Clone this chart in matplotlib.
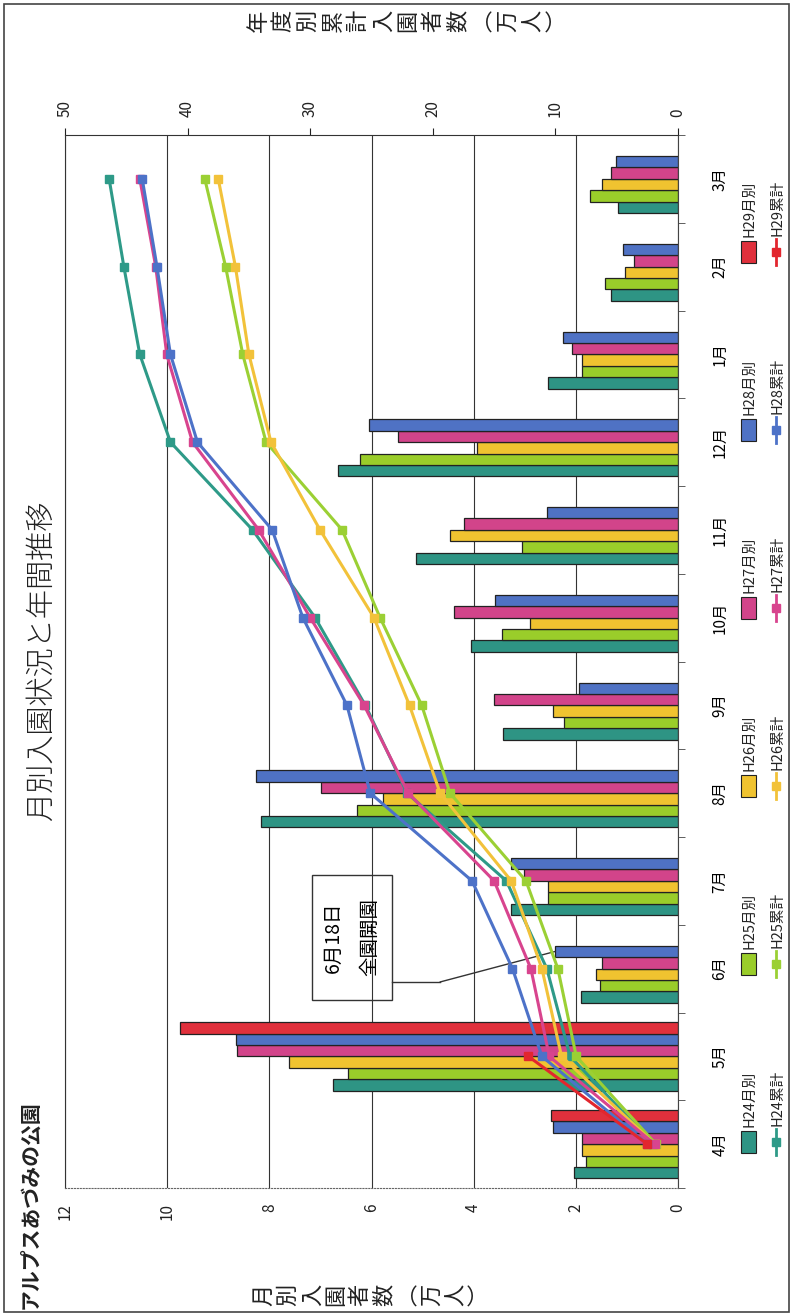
import numpy as np
import matplotlib
matplotlib.use('Agg')
import matplotlib.pyplot as plt
from matplotlib.patches import Rectangle
from matplotlib.lines import Line2D
from matplotlib.ticker import FixedLocator

plt.rcParams['font.family'] = ['Noto Sans CJK JP', 'DejaVu Sans']

# データ（万人）
months = ['4月', '5月', '6月', '7月', '8月', '9月', '10月', '11月', '12月', '1月', '2月', '3月']
names = ['H24', 'H25', 'H26', 'H27', 'H28', 'H29']

h24 = [2.03, 6.75, 1.90, 3.27, 8.17, 3.42, 4.06, 5.12, 6.65, 2.54, 1.32, 1.17]
h25 = [1.81, 6.46, 1.53, 2.55, 6.29, 2.23, 3.45, 3.05, 6.22, 1.88, 1.42, 1.73]
h26 = [1.88, 7.62, 1.60, 2.54, 5.77, 2.45, 2.90, 4.46, 3.94, 1.88, 1.04, 1.49]
h27 = [1.88, 8.63, 1.49, 3.02, 6.98, 3.61, 4.38, 4.18, 5.48, 2.08, 0.86, 1.31]
h28 = [2.45, 8.66, 2.41, 3.27, 8.27, 1.93, 3.58, 2.57, 6.04, 2.25, 1.07, 1.21]
h29 = [2.48, 9.75]

cum24 = [2.0, 8.8, 10.7, 14.0, 22.1, 25.5, 29.6, 34.7, 41.4, 43.9, 45.2, 46.4]
cum25 = [1.8, 8.3, 9.8, 12.4, 18.6, 20.9, 24.3, 27.4, 33.6, 35.5, 36.9, 38.6]
cum26 = [1.9, 9.5, 11.1, 13.6, 19.4, 21.9, 24.8, 29.2, 33.2, 35.0, 36.1, 37.5]
cum27 = [1.9, 10.5, 12.0, 15.0, 22.0, 25.6, 30.0, 34.2, 39.6, 41.7, 42.6, 43.9]
cum28 = [2.5, 11.1, 13.5, 16.8, 25.1, 27.0, 30.6, 33.1, 39.2, 41.4, 42.5, 43.7]
cum29 = [2.5, 12.2]

monthly = [h24, h25, h26, h27, h28, h29]
cumul = [cum24, cum25, cum26, cum27, cum28, cum29]
bar_colors = ['#2e9484', '#9acd2a', '#f0c330', '#d2448a', '#4f72c4', '#e0303c']
line_colors = ['#2e9a88', '#9bd034', '#f2c23a', '#d8448e', '#4d72c8', '#e2262e']

W, H = 792, 1316


def fx(px):
    return px / W


def fy(py):
    return 1 - py / H


def vertical_label(text, x0, y, pitch, size):
    # 縦書きラベルを90度回転した形で1文字ずつ置く
    for k, ch in enumerate(text):
        fig.text(fx(x0 + k * pitch), fy(y), ch, rotation=90, ha='center',
                 va='center', fontsize=size, color='#222222')


fig = plt.figure(figsize=(W / 100, H / 100), dpi=100)
fig.patch.set_facecolor('white')

ax = fig.add_axes([fx(65), fy(1188), (678 - 65) / W, (1188 - 135) / H])

bh = 0.13
n = len(monthly)
for i, vals in enumerate(monthly):
    pos = np.arange(len(vals)) + (i - (n - 1) / 2) * bh
    ax.barh(pos, vals, height=bh, color=bar_colors[i], edgecolor='#222222',
            linewidth=0.9, zorder=2)

ax.set_xlim(12, 0)
ax.set_ylim(-0.5, 11.5)
ax.set_xticks(range(0, 13, 2))
ax.xaxis.grid(True, color='#333333', linewidth=0.8)
ax.set_axisbelow(True)
ax.tick_params(axis='x', length=0, pad=11, labelsize=11, labelrotation=90,
               colors='#222222')

ax.set_yticks(range(len(months)))
ax.set_yticklabels(months, rotation=90, va='center')
ax.yaxis.tick_right()
ax.yaxis.set_minor_locator(FixedLocator(np.arange(-0.5, 12, 1)))
ax.tick_params(axis='y', which='major', length=0, pad=24, labelsize=11)
ax.tick_params(axis='y', which='minor', length=5, direction='out',
               right=True, left=False, color='#444444')

ax.spines['top'].set_visible(False)
ax.spines['left'].set_color('#333333')
ax.spines['right'].set_color('#444444')
ax.spines['bottom'].set_color('#666666')
ax.spines['bottom'].set_linestyle(':')

ax2 = ax.twiny()
for i, vals in enumerate(cumul):
    ax2.plot(vals, np.arange(len(vals)), color=line_colors[i], lw=2.2,
             marker='s', ms=6, zorder=3)
ax2.set_xlim(50, 0)
ax2.set_xticks(range(0, 51, 10))
ax2.tick_params(axis='x', length=5, width=0.8, pad=8, labelsize=11,
                labelrotation=90, direction='out', colors='#222222')
for s in ['bottom', 'left', 'right']:
    ax2.spines[s].set_visible(False)
ax2.spines['top'].set_color('#333333')

# 注記
fig.add_artist(Rectangle((fx(312), fy(1000)), 80 / W, 125 / H, fill=False,
                         ec='#333333', lw=1, transform=fig.transFigure))
fig.text(fx(333), fy(937), '6月18日', rotation=90, ha='center', va='center',
         fontsize=14)
fig.text(fx(370), fy(937), '全園開園', rotation=90, ha='center', va='center',
         fontsize=14)
fig.add_artist(Line2D([fx(392), fx(440)], [fy(982), fy(982)], color='#333333',
                      lw=1, transform=fig.transFigure))
ax.annotate('', xy=(h28[2], 2 + 1.5 * bh), xycoords='data',
            xytext=(fx(440), fy(982)), textcoords='figure fraction',
            arrowprops=dict(arrowstyle='-', color='#333333', lw=1,
                            shrinkA=0, shrinkB=0))

# タイトル
fig.text(fx(42), fy(661), '月別入園状況と年間推移', rotation=90, ha='center',
         va='center', fontsize=21, weight='light', color='#222222')
fig.text(fx(30), fy(1205), 'アルプスあづみの公園', rotation=90, ha='center',
         va='center', fontsize=15, weight='bold', color='#222222')

# 縦書きの軸ラベル
vertical_label('月別入園者数︵万人︶', 264, 1295, 24, 16)
vertical_label('年度別累計入園者数︵万人︶', 258, 21, 25, 16)

# 凡例
for i, name in enumerate(names):
    yc = 1142 - 178 * i
    fig.add_artist(Rectangle((fx(741), fy(yc + 11)), 15 / W, 22 / H,
                             fc=bar_colors[i], ec='#222222', lw=0.8,
                             transform=fig.transFigure))
    fig.text(fx(749), fy(yc - 15), name + '月別', rotation=90, ha='center',
             va='bottom', fontsize=10.5, color='#222222')
    fig.add_artist(Line2D([fx(776), fx(776)], [fy(yc + 13), fy(yc - 13)],
                          color=line_colors[i], lw=2, transform=fig.transFigure))
    fig.add_artist(Line2D([fx(776)], [fy(yc)], marker='s', ms=6, lw=0,
                          color=line_colors[i], transform=fig.transFigure))
    fig.text(fx(777), fy(yc - 16), name + '累計', rotation=90, ha='center',
             va='bottom', fontsize=10.5, color='#222222')

# 外枠
fig.add_artist(Rectangle((fx(4), fy(1312)), 785 / W, 1308 / H, fill=False,
                         ec='#444444', lw=1.2, transform=fig.transFigure))

fig.savefig('out.png', dpi=100)
